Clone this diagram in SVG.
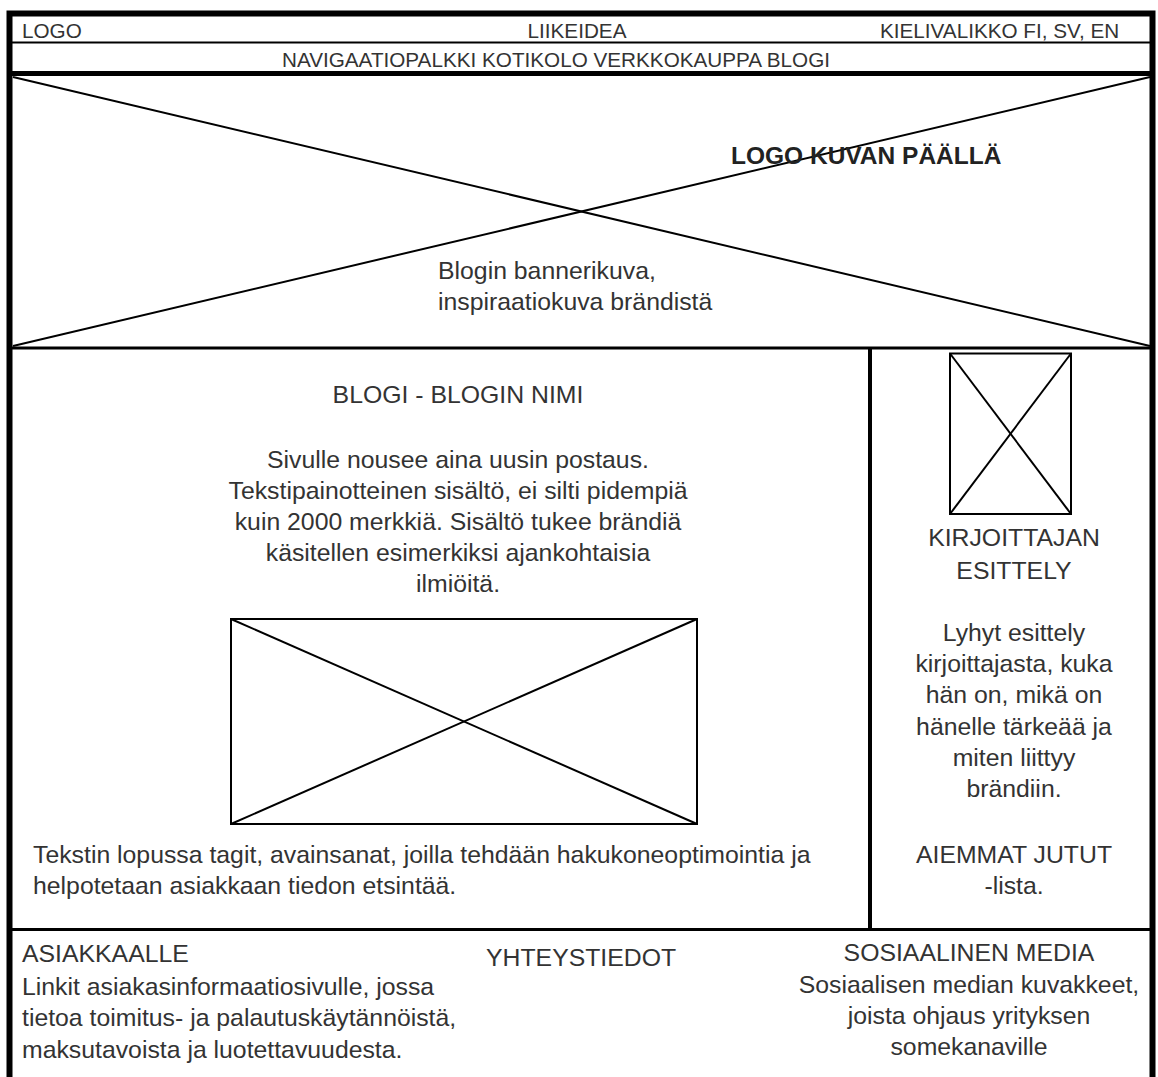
<svg xmlns="http://www.w3.org/2000/svg" width="1158" height="1077" viewBox="0 0 1158 1077">
  <style>
    .t { font-family: "Liberation Sans", Arial, sans-serif; font-size: 24.8px; fill: #333; }
    .h { font-family: "Liberation Sans", Arial, sans-serif; font-size: 20.7px; fill: #333; }
    .c { text-anchor: middle; }
    .b { font-weight: bold; font-size: 24.5px; fill: #222; }
    .ln { stroke: #000; fill: none; }
  </style>
  <rect width="1158" height="1077" fill="#fff"/>

  <!-- outer frame -->
  <g id="frame">
    <rect class="ln" x="9.5" y="13.5" width="1143" height="1080" stroke-width="6"/>
  </g>

  <!-- header rows -->
  <g id="header">
    <line class="ln" x1="10" y1="42.5" x2="1152" y2="42.5" stroke-width="2"/>
    <line class="ln" x1="10" y1="73.5" x2="1152" y2="73.5" stroke-width="5"/>
    <text class="h" x="22" y="38">LOGO</text>
    <text class="h c" x="577" y="38">LIIKEIDEA</text>
    <text class="h" x="880" y="38">KIELIVALIKKO FI, SV, EN</text>
    <text class="h c" x="556" y="67">NAVIGAATIOPALKKI KOTIKOLO VERKKOKAUPPA BLOGI</text>
  </g>

  <!-- banner image placeholder -->
  <g id="banner">
    <line class="ln" x1="12" y1="348" x2="1152" y2="348" stroke-width="3"/>
    <line class="ln" x1="13" y1="77" x2="1150" y2="346" stroke-width="2"/>
    <line class="ln" x1="13" y1="346" x2="1150" y2="77" stroke-width="2"/>
    <text class="t b" x="731" y="164">LOGO KUVAN PÄÄLLÄ</text>
    <text class="t" x="438" y="279">Blogin bannerikuva,</text>
    <text class="t" x="438" y="310">inspiraatiokuva brändistä</text>
  </g>

  <!-- blog post column -->
  <g id="blog">
    <text class="t c" x="458" y="403">BLOGI - BLOGIN NIMI</text>
    <text class="t c" x="458" y="468">Sivulle nousee aina uusin postaus.</text>
    <text class="t c" x="458" y="499">Tekstipainotteinen sisältö, ei silti pidempiä</text>
    <text class="t c" x="458" y="530">kuin 2000 merkkiä. Sisältö tukee brändiä</text>
    <text class="t c" x="458" y="561">käsitellen esimerkiksi ajankohtaisia</text>
    <text class="t c" x="458" y="592">ilmiöitä.</text>
    <g id="post-image">
      <rect class="ln" x="231" y="619" width="466" height="205" stroke-width="2"/>
      <line class="ln" x1="231" y1="619" x2="697" y2="824" stroke-width="2"/>
      <line class="ln" x1="231" y1="824" x2="697" y2="619" stroke-width="2"/>
    </g>
    <text class="t" x="33" y="863">Tekstin lopussa tagit, avainsanat, joilla tehdään hakukoneoptimointia ja</text>
    <text class="t" x="33" y="894">helpotetaan asiakkaan tiedon etsintää.</text>
  </g>

  <!-- author sidebar -->
  <g id="sidebar">
    <line class="ln" x1="870" y1="348" x2="870" y2="929" stroke-width="4"/>
    <g id="author-image">
      <rect class="ln" x="950" y="353.5" width="121" height="160.5" stroke-width="2"/>
      <line class="ln" x1="950" y1="353.5" x2="1071" y2="514" stroke-width="2"/>
      <line class="ln" x1="950" y1="514" x2="1071" y2="353.5" stroke-width="2"/>
    </g>
    <text class="t c" x="1014" y="546">KIRJOITTAJAN</text>
    <text class="t c" x="1014" y="579">ESITTELY</text>
    <text class="t c" x="1014" y="641">Lyhyt esittely</text>
    <text class="t c" x="1014" y="672">kirjoittajasta, kuka</text>
    <text class="t c" x="1014" y="703">hän on, mikä on</text>
    <text class="t c" x="1014" y="735">hänelle tärkeää ja</text>
    <text class="t c" x="1014" y="766">miten liittyy</text>
    <text class="t c" x="1014" y="797">brändiin.</text>
    <text class="t c" x="1014" y="863">AIEMMAT JUTUT</text>
    <text class="t c" x="1014" y="894">-lista.</text>
  </g>

  <!-- footer -->
  <g id="footer">
    <line class="ln" x1="10" y1="929.5" x2="1152" y2="929.5" stroke-width="3"/>
    <text class="t" x="22" y="962">ASIAKKAALLE</text>
    <text class="t" x="22" y="995">Linkit asiakasinformaatiosivulle, jossa</text>
    <text class="t" x="22" y="1026">tietoa toimitus- ja palautuskäytännöistä,</text>
    <text class="t" x="22" y="1058">maksutavoista ja luotettavuudesta.</text>
    <text class="t" x="486" y="966">YHTEYSTIEDOT</text>
    <text class="t c" x="969" y="961">SOSIAALINEN MEDIA</text>
    <text class="t c" x="969" y="993">Sosiaalisen median kuvakkeet,</text>
    <text class="t c" x="969" y="1024">joista ohjaus yrityksen</text>
    <text class="t c" x="969" y="1055">somekanaville</text>
  </g>
</svg>
